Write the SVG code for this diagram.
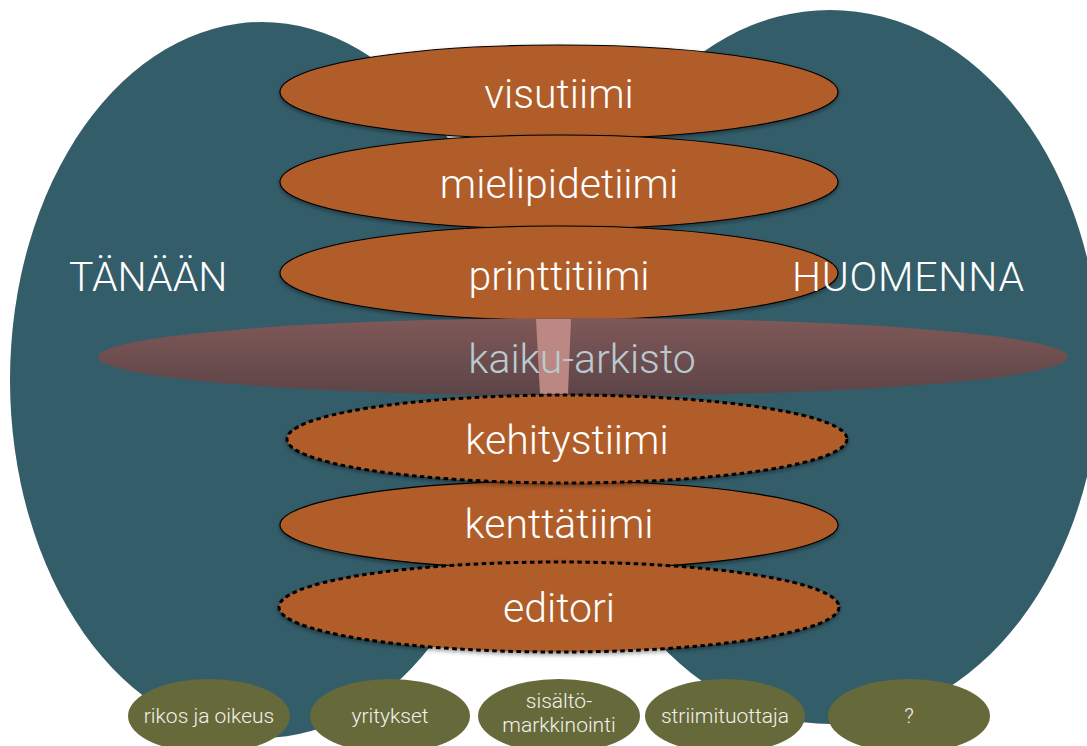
<svg xmlns="http://www.w3.org/2000/svg" width="1087" height="746" viewBox="0 0 1087 746">
  <defs>
    <linearGradient id="kaikuGrad" x1="0" y1="0" x2="0" y2="1">
      <stop offset="0" stop-color="#805858"/>
      <stop offset="1" stop-color="#5c4447"/>
    </linearGradient>
    <filter id="shadow" x="-10%" y="-20%" width="120%" height="150%">
      <feDropShadow dx="0" dy="2" stdDeviation="2" flood-color="#000" flood-opacity="0.4"/>
    </filter>
  </defs>
  <style>
    .blob { fill: #345d6a; }
    .team { fill: #b05d2a; stroke: #000; stroke-width: 1.2; }
    .dashed { stroke-width: 3; stroke-dasharray: 4.5 3.5; }
    .big { font-family: Roboto, "Liberation Sans", Arial, sans-serif; font-weight: 300; font-size: 41px; fill: #ffffff; text-anchor: middle; }
    .side { font-family: Roboto, "Liberation Sans", Arial, sans-serif; font-weight: 300; font-size: 41px; fill: #ffffff; }
    .topic { fill: #666a3a; }
    .small { font-family: Roboto, "Liberation Sans", Arial, sans-serif; font-weight: 300; font-size: 21px; fill: #f2f2ea; text-anchor: middle; }
  </style>
  <rect width="1087" height="746" fill="#ffffff"/>

  <g id="tanaan">
    <ellipse class="blob" cx="262" cy="380" rx="252" ry="358"/>
  </g>
  <g id="huomenna">
    <ellipse class="blob" cx="830" cy="367" rx="270" ry="357"/>
  </g>

  <g id="visutiimi">
    <ellipse class="team" cx="559" cy="92" rx="279" ry="47" filter="url(#shadow)"/>
    <text class="big" x="559" y="108">visutiimi</text>
  </g>
  <g id="mielipidetiimi">
    <ellipse class="team" cx="559" cy="182" rx="279" ry="47" filter="url(#shadow)"/>
    <text class="big" x="559" y="198">mielipidetiimi</text>
  </g>
  <g id="printtitiimi">
    <ellipse class="team" cx="559" cy="273" rx="279" ry="47" filter="url(#shadow)"/>
    <text class="big" x="559" y="290">printtitiimi</text>
  </g>

  <g id="label-tanaan">
    <text class="side" x="69" y="291">TÄNÄÄN</text>
  </g>
  <g id="label-huomenna">
    <text class="side" x="792" y="291" textLength="232">HUOMENNA</text>
  </g>

  <g id="kaiku-arkisto">
    <ellipse cx="583" cy="357" rx="485" ry="39" fill="url(#kaikuGrad)"/>
    <polygon points="536,319 571,319 568,394 540,394" fill="#c48e8a" opacity="0.9"/>
    <text class="big" x="582" y="373" style="fill:#b9cbd0">kaiku-arkisto</text>
  </g>

  <g id="kenttatiimi">
    <ellipse class="team" cx="559" cy="525" rx="279" ry="44" filter="url(#shadow)"/>
    <text class="big" x="559" y="538">kenttätiimi</text>
  </g>
  <g id="kehitystiimi">
    <ellipse class="team dashed" cx="567" cy="439" rx="280" ry="44" filter="url(#shadow)"/>
    <text class="big" x="567" y="454">kehitystiimi</text>
  </g>
  <g id="editori">
    <ellipse class="team dashed" cx="559" cy="607" rx="280" ry="45" filter="url(#shadow)"/>
    <text class="big" x="559" y="622">editori</text>
  </g>

  <g id="rikos-ja-oikeus">
    <ellipse class="topic" cx="209" cy="716" rx="81" ry="37"/>
    <text class="small" x="209" y="723">rikos ja oikeus</text>
  </g>
  <g id="yritykset">
    <ellipse class="topic" cx="390" cy="716" rx="80" ry="37"/>
    <text class="small" x="390" y="723">yritykset</text>
  </g>
  <g id="sisaltomarkkinointi">
    <ellipse class="topic" cx="559" cy="716" rx="81" ry="37"/>
    <text class="small" x="559" y="708">sisältö-</text>
    <text class="small" x="559" y="732">markkinointi</text>
  </g>
  <g id="striimituottaja">
    <ellipse class="topic" cx="725" cy="716" rx="80" ry="37"/>
    <text class="small" x="725" y="723">striimituottaja</text>
  </g>
  <g id="kysymys">
    <ellipse class="topic" cx="909" cy="716" rx="81" ry="37"/>
    <text class="small" x="909" y="723">?</text>
  </g>

  <g id="connectors"></g>
</svg>
